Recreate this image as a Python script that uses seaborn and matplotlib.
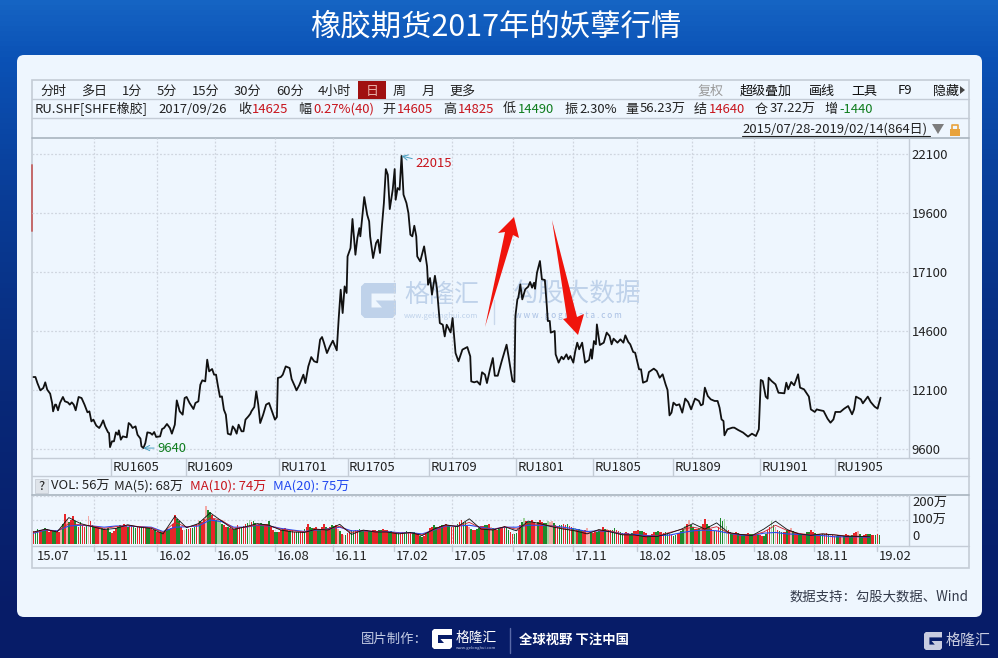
import matplotlib
matplotlib.use("Agg")
import matplotlib.pyplot as plt
from matplotlib.patches import FancyBboxPatch, Polygon, Rectangle
import numpy as np
import seaborn as sns

# 价格数据 (交易日序号, 收盘价)
days = [0, 2, 4, 7, 10, 12, 14, 17, 19, 20, 22, 23, 25, 27, 30, 32, 35, 37, 39, 41, 43, 46, 49, 52, 55, 57, 59, 61, 64, 67,
        69, 71, 73, 76, 77, 78, 80, 82, 84, 86, 87, 89, 91, 95, 97, 99, 101, 104, 106, 109, 110, 112, 114, 116, 119, 121, 123, 125, 129, 131,
        133, 136, 139, 141, 144, 146, 149, 152, 154, 156, 159, 163, 165, 168, 170, 172, 175, 177, 179, 182, 184, 186, 188, 190, 192, 194, 196, 198, 201, 203,
        205, 207, 209, 212, 214, 216, 219, 221, 222, 225, 227, 229, 231, 234, 237, 240, 243, 246, 248, 249, 252, 254, 257, 261, 263, 266, 268, 271, 275, 277,
        280, 283, 286, 289, 292, 294, 296, 299, 302, 305, 309, 311, 313, 315, 317, 319, 320, 323, 325, 328, 330, 332, 333, 337, 340, 342, 343, 346, 349, 351,
        353, 355, 357, 359, 361, 363, 366, 368, 369, 371, 373, 375, 377, 380, 382, 384, 386, 388, 390, 391, 394, 398, 401, 402, 404, 406, 409, 411, 414, 417,
        419, 421, 425, 427, 430, 433, 437, 442, 445, 446, 449, 452, 455, 457, 460, 462, 465, 468, 470, 473, 477, 482, 484, 488, 490, 491, 493, 494, 496, 498,
        501, 504, 506, 508, 510, 511, 513, 516, 518, 521, 523, 524, 526, 527, 531, 532, 535, 538, 540, 543, 545, 547, 550, 552, 554, 556, 559, 562, 566, 568,
        569, 571, 573, 574, 577, 581, 584, 587, 589, 591, 595, 598, 601, 603, 606, 608, 611, 613, 617, 619, 621, 625, 627, 632, 635, 638, 641, 644, 646, 648,
        650, 652, 655, 658, 661, 664, 667, 670, 674, 678, 680, 682, 684, 687, 690, 694, 697, 699, 701, 703, 704, 707, 712, 714, 718, 723, 728, 732, 736, 739,
        740, 741, 743, 746, 748, 749, 752, 754, 756, 759, 765, 767, 769, 772, 775, 779, 781, 785, 790, 792, 796, 798, 800, 805, 809, 812, 815, 817, 822, 826,
        830, 834, 836, 838, 843, 845, 850, 853, 857, 860, 863]
close = [12650, 12650, 12395, 12085, 12185, 12425, 12115, 11945, 11550, 11195, 11480, 11480, 11240, 11550, 11805, 11620, 11575, 11480, 11575, 11480, 11240, 11805, 11760, 11480, 11155, 11195, 10770, 10845, 10590, 10490,
         10630, 10815, 10560, 10305, 10280, 9680, 9925, 9925, 10305, 10205, 10390, 9995, 10135, 10095, 10700, 10630, 10490, 10560, 10205, 10040, 9715, 9640, 9855, 10305, 10280, 10205, 10320, 10110, 10135, 10445,
         10490, 10660, 10490, 10250, 10630, 11660, 11195, 11055, 11760, 11805, 11550, 11295, 11550, 11620, 12325, 12510, 12465, 13385, 12890, 12990, 12750, 12750, 12255, 11805, 11830, 11265, 11055, 10250, 10205, 10560,
         10445, 10250, 10630, 10350, 10350, 10845, 10985, 11095, 11195, 11380, 12045, 11480, 10700, 11055, 11480, 11550, 11195, 10845, 10955, 12610, 12650, 12750, 13100, 13030, 12565, 12285, 12085, 12325, 12750, 12395,
         13100, 13495, 13315, 13270, 14230, 14345, 14090, 13665, 13950, 14190, 13780, 15150, 16350, 15360, 16490, 16210, 17760, 18115, 19345, 17830, 18540, 18960, 18610, 20275, 19525, 19245, 18610, 17690, 18325, 18465,
         17905, 19030, 20020, 21460, 21220, 19765, 20585, 21460, 20160, 20655, 20585, 22015, 20375, 20020, 19595, 18680, 18610, 19060, 18610, 17760, 17550, 18185, 17340, 16560, 16845, 16140, 16940, 16420, 14935, 14865,
         14370, 14865, 14540, 15150, 13665, 13315, 13810, 13920, 13525, 12465, 12425, 12465, 12325, 12850, 12750, 12395, 12960, 13455, 12705, 12705, 13315, 14020, 13525, 12480, 12440, 15235, 15940, 16010, 16575, 15940,
         16365, 16475, 16675, 16435, 16645, 16390, 17070, 17565, 16790, 16760, 15660, 15025, 15025, 14530, 14600, 13610, 13260, 13510, 13400, 13610, 13400, 13540, 13260, 13750, 14105, 13825, 14105, 13260, 13370, 13825,
         13425, 14175, 14035, 14880, 14005, 14105, 14530, 14385, 14035, 14275, 14105, 14245, 14105, 14415, 14135, 14035, 13710, 13680, 12975, 12975, 12410, 12480, 12860, 13005, 12905, 12620, 12765, 12340, 12100, 11025,
         11140, 11565, 11450, 11495, 11140, 11735, 11590, 11280, 11735, 11635, 11450, 11495, 12200, 11845, 11705, 11635, 11635, 11350, 10855, 10785, 10180, 10435, 10505, 10505, 10405, 10295, 10125, 10250, 10150, 10435,
         11495, 12525, 12480, 11820, 11735, 12620, 12480, 12410, 12340, 11985, 11960, 12410, 12130, 12440, 12300, 12765, 12200, 12130, 11820, 11280, 11170, 11280, 11255, 11210, 10885, 10715, 10855, 11170, 11170, 11310,
         11420, 11070, 11280, 11820, 11705, 11535, 11820, 11590, 11395, 11310, 11775]

# 成交量 (万手), 每2个交易日取一根, 分两组
vol_a = [55, 62, 58, 66, 52, 60, 48, 70, 125, 92, 115, 78,
         93, 72, 115, 80, 70, 72, 62, 65, 45, 68, 78, 85,
         72, 80, 68, 72, 70, 72, 62, 58, 50, 52, 62, 68,
         120, 95, 60, 62, 65, 70, 100, 92, 160, 135, 105, 100,
         85, 72, 68, 60, 78, 70, 85, 100, 95, 80, 88, 82,
         95, 60, 48, 60, 65, 55, 60, 50, 55, 62, 85, 65,
         70, 60, 85, 68, 80, 78, 55, 37, 45, 58, 60, 62,
         58, 60, 55, 60, 58, 62, 58, 55, 45, 48, 50, 55,
         52, 50, 42, 30, 40, 65, 78, 72, 80, 82, 78, 72,
         85, 100, 90, 70, 60, 62, 75, 78, 82, 68, 60, 72,
         75, 60, 42, 45, 78, 110, 90, 100, 85, 100, 88, 95,
         95, 80, 78, 85, 82, 70, 68, 62, 55, 65, 45, 50,
         55, 70, 62, 60, 65, 55, 45, 48, 42, 55, 60, 55,
         45, 35, 48, 55, 50, 48, 42, 35, 40, 55, 75, 100,
         70, 62, 75, 105, 75, 58, 55, 110, 105, 60, 45, 48,
         42, 40, 45, 40, 42, 38, 35, 60, 95, 70, 55, 50,
         58, 65, 52, 40, 38, 50, 58, 45, 42, 40, 45, 38,
         35, 38, 32, 40, 35, 45, 55, 35, 40, 42, 38, 40]
kind_a = list("rgrgrgrprgrg" "grpgrprgrrgr" "grgrrgrgrrgr" "rgrgrgprpgrl"
              "grrgrgrlgrgr" "grgrrgrgrgrg" "rgrrgrgprgrg" "grgrgrrgrgrg"
              "rgrgrrgrgrgr" "grgprgrgrgrr" "rgrgrlgrprgl" "prgrgrlgrpgr"
              "grprgrgrgrrg" "rgrgrgrgrglp" "grlrgprglrgr" "rgrgrrgrlpgr"
              "gprgrgrgrgrp" "rgprgrpgrgrr")
vol_b = [50, 60, 55, 62, 55, 58, 50, 85, 105, 100, 95, 72,
         80, 78, 95, 75, 72, 68, 60, 52, 55, 70, 72, 75,
         76, 72, 70, 70, 72, 66, 60, 52, 48, 56, 64, 85,
         105, 72, 58, 62, 66, 82, 95, 105, 140, 120, 100, 90,
         78, 70, 62, 66, 72, 76, 88, 92, 86, 82, 85, 85,
         72, 52, 52, 62, 58, 56, 52, 52, 56, 70, 72, 66,
         62, 70, 72, 72, 76, 62, 42, 38, 50, 56, 58, 60,
         56, 56, 58, 56, 58, 58, 52, 48, 46, 46, 50, 52,
         48, 44, 34, 32, 50, 70, 72, 74, 78, 78, 72, 74,
         90, 92, 76, 62, 58, 66, 74, 78, 72, 62, 62, 70,
         65, 48, 40, 58, 90, 96, 92, 90, 90, 92, 88, 92,
         86, 76, 80, 80, 74, 68, 62, 58, 58, 52, 44, 50,
         60, 62, 58, 60, 58, 48, 44, 44, 46, 54, 54, 48,
         38, 40, 50, 50, 46, 44, 36, 36, 46, 62, 82, 78,
         62, 66, 85, 85, 62, 54, 70, 95, 75, 50, 44, 44,
         40, 40, 40, 38, 38, 34, 40, 70, 78, 60, 50, 52,
         58, 54, 44, 38, 42, 52, 48, 42, 38, 40, 40, 36,
         34, 34, 34, 36, 38, 48, 42, 36, 40, 38, 38, 36]
kind_b = list("grgrrgrgprgr" "rgrgrgrgrgrr" "rgrgrgrrgrgr" "grprgrgrgrgl"
              "rgrgrrgrgrgr" "rgrgrgrgrrgr" "grgrgprgrgrg" "rgrrgrgrgrgr"
              "grgrgrgrrgrg" "rgrgrgrgprgr" "grgrgrgrgrgp" "grgrrgrgrprg"
              "rgrgrgrrgrgr" "grgrrgrgrgrg" "rgrgrgrglgrg" "grgrgrgrgrgr"
              "rgrgrgrrgrgr" "grgrgrgrgrgg")
vol_days = np.arange(0, 864, 2)

# 均线 (每12个交易日读一个)
ma_days = np.arange(0, 864, 12)
ma5 = [50, 62, 50, 110, 85, 72, 60, 65, 80, 70, 65, 42,
       115, 68, 85, 130, 95, 60, 72, 85, 78, 58, 50, 48,
       62, 58, 82, 40, 58, 50, 50, 42, 48, 35, 62, 80,
       72, 105, 62, 58, 72, 55, 95, 85, 72, 62, 55, 42,
       60, 50, 38, 38, 30, 32, 45, 62, 85, 62, 88, 48,
       40, 35, 62, 95, 60, 42, 36, 42, 38, 32, 32, 30]
ma10 = [48, 60, 52, 85, 80, 75, 65, 72, 78, 72, 68, 48,
        90, 70, 80, 110, 98, 65, 70, 80, 76, 62, 55, 50,
        60, 60, 74, 48, 56, 52, 50, 45, 46, 38, 60, 78,
        74, 90, 66, 60, 72, 62, 85, 82, 75, 65, 54, 44,
        58, 54, 40, 36, 32, 35, 48, 60, 70, 60, 72, 46,
        40, 36, 50, 78, 56, 44, 38, 42, 38, 34, 32, 30]
ma20 = [45, 58, 55, 75, 78, 75, 70, 75, 75, 72, 70, 52,
        70, 72, 75, 100, 93, 70, 70, 78, 75, 65, 58, 52,
        58, 62, 70, 55, 55, 52, 52, 47, 47, 42, 58, 75,
        75, 78, 70, 62, 70, 70, 78, 78, 75, 70, 62, 52,
        55, 52, 42, 40, 35, 35, 37, 47, 55, 58, 55, 45,
        37, 35, 45, 48, 42, 40, 37, 35, 30, 30, 30, 28]

price_ticks = [9600, 12100, 14600, 17100, 19600, 22100]
month_labels = ["15.11", "16.02", "16.05", "16.08", "16.11", "17.02", "17.05", "17.08", "17.11", "18.02", "18.05", "18.08", "18.11", "19.02"]
month_days = [62, 126, 185, 246, 305, 367, 426, 489, 550, 615, 671, 734, 795, 859]
contract_labels = ["RU1605", "RU1609", "RU1701", "RU1705", "RU1709", "RU1801", "RU1805", "RU1809", "RU1901", "RU1905"]
contract_days = [79, 155, 250, 320, 403, 492, 570, 652, 740, 817]

W, H = 998, 658
PANEL = "#eef6fe"
RED = "#c8141c"
GREEN = "#0f7d1e"
TEXT = "#222222"
LINE = "#c4ccd6"
GRID = "#cfd6df"

sns.set_theme(style="white")
plt.rcParams["font.family"] = ["Noto Sans CJK SC", "DejaVu Sans"]
plt.rcParams["axes.unicode_minus"] = False

fig = plt.figure(figsize=(W / 100, H / 100), dpi=100)


def px_axes(left, top, right, bottom, z):
    ax = fig.add_axes([left / W, 1 - bottom / H, (right - left) / W, (bottom - top) / H], zorder=z)
    ax.patch.set_alpha(0)
    return ax


def draw_g(ax, x, y, size, color, z=2):
    pts = [(0, .1), (.1, 0), (1, 0), (1, .3), (.3, .3), (.3, .7), (.6, .7), (.42, .5), (1, .5), (1, .9), (.9, 1), (.1, 1), (0, .9)]
    ax.add_patch(Polygon([(x + a * size, y + b * size) for a, b in pts], closed=True, fc=color, ec="none", zorder=z))


# 背景层 (像素坐标)
bg = px_axes(0, 0, W, H, 0)
gy = np.array([0, 55, 200, 400, 617, 658]) / H
gc = np.array([[21, 100, 195], [11, 82, 182], [9, 60, 150], [8, 40, 120], [7, 28, 104], [7, 28, 104]])
ys = np.linspace(0, 1, 128)
grad = np.stack([np.interp(ys, gy, gc[:, i]) for i in range(3)], axis=1)[:, None, :] / 255
bg.imshow(grad, extent=[0, W, H, 0], aspect="auto", zorder=0)
bg.add_patch(FancyBboxPatch((17, 55), 965, 562, boxstyle="round,pad=0,rounding_size=7", fc=PANEL, ec="none", lw=0, zorder=1))
bg.set_xlim(0, W)
bg.set_ylim(H, 0)
bg.axis("off")

bg.text(496, 27, "橡胶期货2017年的妖孽行情", color="white", fontsize=21.9, ha="center", va="center")

# 框线
bg.add_patch(Rectangle((32, 80), 937, 488, fc="none", ec=LINE, lw=1.2, zorder=2))
for yy in [99, 118, 458, 476, 546]:
    bg.plot([32, 969], [yy, yy], color=LINE, lw=1, zorder=2)
bg.plot([32, 969], [138, 138], color="#a9b4bf", lw=1.2, zorder=2)
bg.plot([32, 969], [495, 495], color="#a9b4bf", lw=1.2, zorder=2)
bg.plot([909, 909], [138, 458], color=LINE, lw=1, zorder=2)
bg.plot([909, 909], [495, 546], color=LINE, lw=1, zorder=2)
bg.plot([32, 32], [165, 231], color="#c46a6a", lw=1.4, zorder=3)

# 工具栏
small = 9.4
for x, s in zip([40, 81, 122, 157, 192, 234, 276, 318, 393, 422, 449],
                ["分时", "多日", "1分", "5分", "15分", "30分", "60分", "4小时", "周", "月", "更多"]):
    bg.text(x, 91, s, fontsize=small, color=TEXT, va="center", zorder=4)
bg.add_patch(Rectangle((358, 81), 28, 18, fc="#a01010", ec="none", zorder=3))
bg.text(372, 91, "日", fontsize=small, color="#e8b0a8", va="center", ha="center", zorder=4)
bg.text(698, 91, "复权", fontsize=small, color="#9a9a9a", va="center", zorder=4)
for x, s in zip([740, 809, 851, 898, 933], ["超级叠加", "画线", "工具", "F9", "隐藏"]):
    bg.text(x, 91, s, fontsize=small, color="#111111", va="center", zorder=4)
bg.add_patch(Polygon([(960, 86), (960, 94), (965, 90)], fc="#444444", ec="none", zorder=4))

# 行情信息
info = [(35, "RU.SHF[SHFE橡胶]", TEXT), (158, "2017/09/26", TEXT), (238, "收", TEXT), (252, "14625", RED),
        (298, "幅", TEXT), (313, "0.27%(40)", RED), (382, "开", TEXT), (397, "14605", RED), (443, "高", TEXT),
        (458, "14825", RED), (503, "低", TEXT), (518, "14490", GREEN), (564, "振", TEXT), (579, "2.30%", TEXT),
        (625, "量", TEXT), (640, "56.23万", TEXT), (694, "结", TEXT), (709, "14640", RED), (755, "仓", TEXT),
        (770, "37.22万", TEXT), (824, "增", TEXT), (839, "-1440", GREEN)]
for x, s, c in info:
    bg.text(x, 109.5, s, fontsize=small, color=c, va="center", zorder=4)

bg.text(742, 129, "2015/07/28-2019/02/14(864日)", fontsize=small, color=TEXT, va="center", zorder=4)
bg.plot([742, 930], [136, 136], color=TEXT, lw=0.8, zorder=4)
bg.add_patch(Polygon([(932, 124), (944, 124), (938, 134)], fc="#7d7d7d", ec="none", zorder=4))
bg.add_patch(Rectangle((950, 129), 10, 7, fc="#e8a33d", ec="none", zorder=4))
bg.plot([952, 952, 958, 958], [129, 125, 125, 129], color="#e8a33d", lw=1.2, zorder=4)

# VOL 行
bg.add_patch(Rectangle((35, 479), 13, 14, fc="#dfe4ea", ec="#c8ced6", lw=0.6, zorder=3))
bg.text(41.5, 486, "?", fontsize=small, color=TEXT, ha="center", va="center", zorder=4)
for x, s, c in [(51, "VOL: 56万", TEXT), (114, "MA(5): 68万", TEXT), (190, "MA(10): 74万", RED), (273, "MA(20): 75万", "#2248f0")]:
    bg.text(x, 486, s, fontsize=small, color=c, va="center", zorder=4)

# 水印
draw_g(bg, 361, 283, 35, "#bfd2ea")
bg.text(404, 295, "格隆汇", fontsize=18, color="#bfd2ea", va="center", zorder=1.5)
bg.text(404, 316, "www.gelonghui.com", fontsize=5.5, color="#bfd2ea", va="center", zorder=1.5)
bg.text(513, 295, "勾股大数据", fontsize=18.5, color="#bfd2ea", va="center", zorder=1.5)
bg.text(515, 316, "w w w . g o g u d a t a . c o m", fontsize=6, color="#a9c0e4", va="center", zorder=1.5)
bg.plot([494, 494], [300, 324], color="#c9d8ec", lw=1, zorder=1.5)

# 页脚
bg.text(969, 597, "数据支持:勾股大数据、Wind".replace(":", "："), fontsize=9.6, color="#333a4a", ha="right", va="center", zorder=4)
bg.text(361, 639, "图片制作：", fontsize=9.6, color="#c4cce4", va="center", zorder=4)
draw_g(bg, 432, 629, 20, "white", z=4)
bg.text(456, 637.5, "格隆汇", fontsize=9.9, color="white", va="center", zorder=4)
bg.text(456, 648, "www.gelonghui.com", fontsize=3, color="#c4cce4", va="center", zorder=4)
bg.plot([510, 510], [628, 653], color="#5a6aa8", lw=1, zorder=4)
bg.text(519, 640, "全球视野 下注中国", fontsize=9.6, color="white", fontweight="bold", va="center", zorder=4)
draw_g(bg, 924, 632, 18, "#c8cce0", z=4)
bg.text(946, 641, "格隆汇", fontsize=10.8, color="#c8cce0", va="center", zorder=4)

# K线主图
ax = px_axes(32, 138, 909, 458, 2)
sns.lineplot(x=days, y=close, color="#111111", linewidth=1.3, ax=ax, estimator=None)
ax.set_xlim(-1.5, 892)
ax.set_ylim(9219, 22777)
ax.yaxis.tick_right()
ax.set_yticks(price_ticks)
ax.set_yticklabels([str(p) for p in price_ticks], fontsize=small, color=TEXT)
ax.set_xticks(month_days)
ax.set_xticklabels([])
ax.tick_params(axis="both", length=0, pad=2)
ax.grid(True, color=GRID, linestyle=(0, (1.5, 1.5)), linewidth=0.9)
ax.set_axisbelow(True)
for s in ax.spines.values():
    s.set_visible(False)

ax.annotate("22015", xy=(375, 22015), xytext=(14, -8), textcoords="offset pixels", color=RED, fontsize=small, va="center",
            arrowprops=dict(arrowstyle="->", color="#4a9fc0", lw=0.7, shrinkA=0, shrinkB=0))
ax.annotate("9640", xy=(112, 9640), xytext=(14, 0), textcoords="offset pixels", color=GREEN, fontsize=small, va="center",
            arrowprops=dict(arrowstyle="->", color="#4a9fc0", lw=0.7, shrinkA=0, shrinkB=0))

# 主力合约行
xa = px_axes(32, 458, 909, 476, 2)
xa.set_xlim(-1.5, 892)
xa.set_ylim(0, 1)
xa.axis("off")
for d, s in zip(contract_days, contract_labels):
    xa.plot([d, d], [0, 1], color=LINE, lw=1)
    xa.text(d + 1.5, 0.5, s, fontsize=small, color=TEXT, va="center")

# 成交量: 两组交替排列
vol = [v for pair in zip(vol_a, vol_b) for v in pair]
vol_kind = [k for pair in zip(kind_a, kind_b) for k in pair]
ax2 = px_axes(32, 495, 909, 546, 2)
sns.barplot(x=vol_days, y=vol, hue=vol_kind, hue_order=["l", "p", "g", "r"],
            palette={"r": "#e8262a", "g": "#1d8a2c", "p": "#f2a9a6", "l": "#9fd29f"},
            native_scale=True, dodge=False, width=0.85, linewidth=0, saturation=1, legend=False, ax=ax2)
sns.lineplot(x=ma_days, y=ma20, color="#2a4cf0", linewidth=0.8, ax=ax2, estimator=None)
sns.lineplot(x=ma_days, y=ma10, color="#d2202c", linewidth=0.6, ax=ax2, estimator=None)
sns.lineplot(x=ma_days, y=ma5, color="#111111", linewidth=0.6, ax=ax2, estimator=None)
ax2.set_xlim(-1.5, 892)
ax2.set_ylim(-8.3, 204)
ax2.set_xticks(month_days)
ax2.set_xticklabels([])
ax2.set_yticks([100, 200])
ax2.set_yticklabels([])
ax2.set_xlabel("")
ax2.set_ylabel("")
ax2.tick_params(axis="both", length=0)
ax2.grid(True, color=GRID, linestyle=(0, (1.5, 1.5)), linewidth=0.9)
ax2.set_axisbelow(True)
for s in ax2.spines.values():
    s.set_visible(False)

bg.text(912, 503, "200万", fontsize=small, color=TEXT, va="center", zorder=4)
bg.text(912, 520, "100万", fontsize=small, color=TEXT, va="center", zorder=4)
bg.text(912, 537, "0", fontsize=small, color=TEXT, va="center", zorder=4)

# 日期行
xb = px_axes(32, 546, 969, 568, 2)
xb.set_xlim(-1.5, 892 + 60 / 0.9815)
xb.set_ylim(1, 0)
xb.axis("off")
xb.text(3, 0.5, "15.07", fontsize=small, color=TEXT, va="center")
for d, s in zip(month_days, month_labels):
    xb.plot([d, d], [0, 0.22], color=LINE, lw=1)
    xb.text(d + 2, 0.5, s, fontsize=small, color=TEXT, va="center")

# 红色箭头
top = px_axes(0, 0, W, H, 5)
top.set_xlim(0, W)
top.set_ylim(H, 0)
top.axis("off")
arrow_up = [(485, 327), (505, 232), (498, 233), (514, 217), (519, 238), (513, 235)]
arrow_down = [(552, 220), (567, 318), (563, 319), (578, 335), (584, 314), (577, 317)]
top.add_patch(Polygon(arrow_up, closed=True, fc="#f0140c", ec="none"))
top.add_patch(Polygon(arrow_down, closed=True, fc="#f0140c", ec="none"))

fig.savefig("out.png", dpi=100)
